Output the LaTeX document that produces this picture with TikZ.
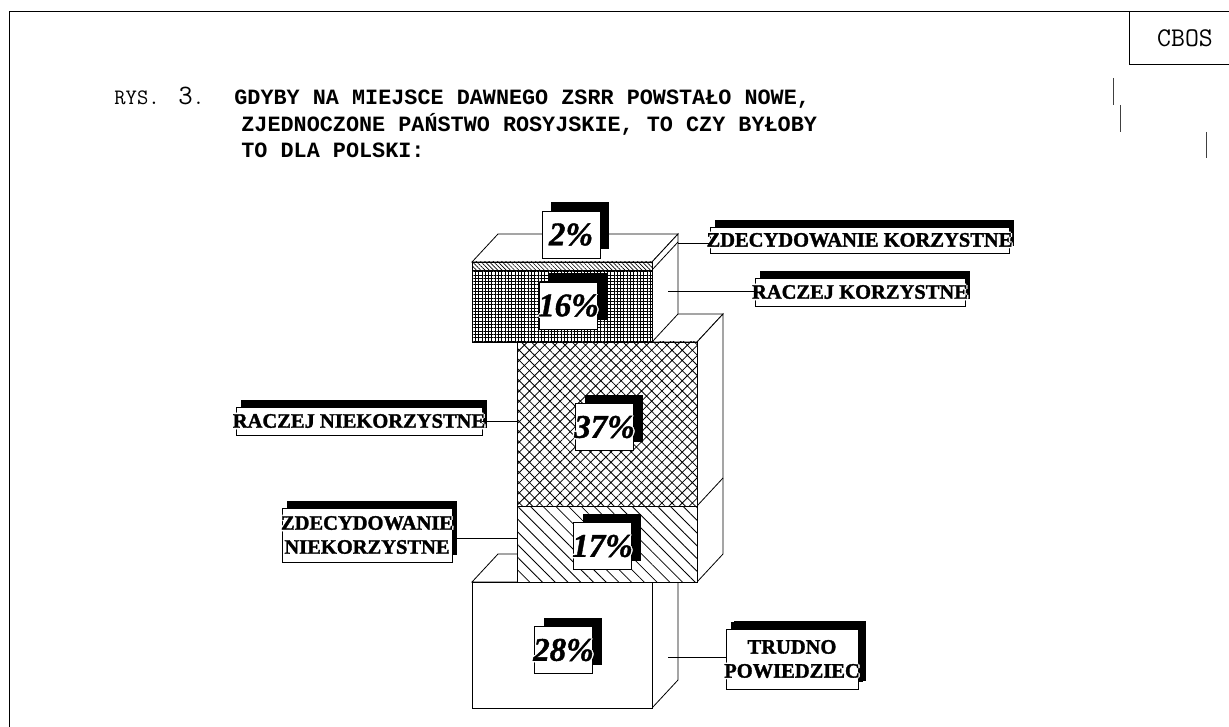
\documentclass[tikz,border=0pt]{standalone}
\usepackage{fontspec}
\setmainfont{Liberation Serif}
\newfontfamily\monof{Liberation Mono}
\newfontfamily\labfam{Liberation Serif Bold}[FakeBold=1.6]
\newfontfamily\pctfam{Liberation Serif Bold Italic}[FakeBold=1.2]
\usetikzlibrary{patterns.meta,shadows}
\newcommand\outl[1]{\makebox[0pt]{\leavevmode\rlap{\color{white}\kern1.4pt #1}\rlap{\color{white}\kern-1.4pt #1}\rlap{\color{white}\raise1.4pt\hbox{#1}}\rlap{\color{white}\lower1.4pt\hbox{#1}}#1}}
\tikzset{
  ttl/.style={anchor=base west, inner sep=0pt, font=\monof\bfseries\fontsize{21.8}{21.8}\selectfont},
  face/.style={fill=white, draw=black, line width=0.8pt},
  pct/.style={draw, fill=white, line width=0.8pt, minimum width=58pt, minimum height=47pt, inner sep=0pt,
    font=\pctfam\fontsize{33}{33}\selectfont,
    drop shadow={shadow xshift=9pt, shadow yshift=9pt, fill=black, opacity=1}},
  lab/.style={draw, fill=white, line width=0.8pt, inner sep=0pt, align=center,
    font=\labfam\fontsize{20.5}{24}\selectfont,
    drop shadow={shadow xshift=5pt, shadow yshift=7pt, fill=black, opacity=1}},
  conn/.style={line width=0.8pt},
  bar/.style={line width=1pt, black!75}
}
\begin{document}
\begin{tikzpicture}[x=1pt, y=-1pt, line width=0.8pt]
\useasboundingbox (0,0) rectangle (1229,727);
\fill[white] (0,0) rectangle (1229,727);
% frame
\draw (9,727) -- (9,11) -- (1229,11);
\draw (1129,11) -- (1129,64) -- (1229,64);
\node[font=\ttfamily\fontsize{27}{27}\selectfont, inner sep=0pt] (cbos) at (1185,38) {CBOS};
\draw[bar] (1113,78) -- (1113,105);
\draw[bar] (1120,105) -- (1120,132);
\draw[bar] (1206,132) -- (1206,158);
% title
\node[anchor=base west, inner sep=0pt, font=\ttfamily\fontsize{22}{22}\selectfont] (rys) at (114,105) {RYS.};
\node[anchor=base west, inner sep=0pt, font=\ttfamily\fontsize{22}{22}\selectfont] (rysn) at (178,105) {{\fontsize{28}{28}\selectfont 3}.};
\node[ttl] (t1) at (234,105) {GDYBY NA MIEJSCE DAWNEGO ZSRR POWSTAŁO NOWE,};
\node[ttl] (t2) at (241,132) {ZJEDNOCZONE PAŃSTWO ROSYJSKIE, TO CZY BYŁOBY};
\node[ttl] (t3) at (241,158) {TO DLA POLSKI:};
% bottom block (28%)
\filldraw[face] (472,582) -- (498,554) -- (678,554) -- (652,582) -- cycle;
\filldraw[face] (652,582) -- (678,554) -- (678,680) -- (652,708) -- cycle;
\filldraw[face] (472,582) rectangle (652,708);
% middle block (37% + 17%)
\filldraw[face] (517,342) -- (543,314) -- (723,314) -- (697,342) -- cycle;
\filldraw[face] (697,342) -- (723,314) -- (723,554) -- (697,582) -- cycle;
\draw (697,506) -- (723,478);
\filldraw[face] (517,342) rectangle (697,582);
\fill[pattern={Hatch[angle=45, distance=7.2pt, line width=0.8pt]}] (517,342) rectangle (697,506);
\fill[pattern={Lines[angle=-45, distance=9pt, line width=0.8pt]}] (517,506) rectangle (697,582);
\draw (517,342) rectangle (697,582);
\draw (517,506) -- (697,506);
% top block (2% + 16%)
\filldraw[face] (472,262) -- (498,234) -- (678,234) -- (652,262) -- cycle;
\filldraw[face] (652,262) -- (678,234) -- (678,314) -- (652,342) -- cycle;
\draw (652,270) -- (678,242);
\filldraw[face] (472,262) rectangle (652,342);
\fill[pattern={Lines[angle=-45, distance=3pt, line width=0.6pt]}] (472,262) rectangle (652,270);
\fill[pattern={Hatch[angle=0, distance=3.3pt, line width=0.6pt]}] (472,270) rectangle (652,342);
\draw (472,262) rectangle (652,342);
\draw (472,270) -- (652,270);
% percentage boxes
\node[pct] (p2) at (571,234.5) {\outl{2\%}};
\node[pct] (p16) at (568.5,305.5) {\outl{16\%}};
\node[pct] (p37) at (604.5,427) {\outl{37\%}};
\node[pct] (p17) at (602.5,546) {\outl{17\%}};
\node[pct] (p28) at (563.5,650) {\outl{28\%}};
% connector start points
\coordinate (zkA) at (678,243);
\coordinate (rkA) at (668,291);
\coordinate (rnA) at (517,421);
\coordinate (znA) at (517,538);
\coordinate (tpA) at (668,657);
% labels
\node[lab, minimum width=299pt, minimum height=26pt] (zk) at (859.5,240) {\outl{ZDECYDOWANIE KORZYSTNE}};
\node[lab, minimum width=210pt, minimum height=28pt] (rk) at (860,292) {\outl{RACZEJ KORZYSTNE}};
\node[lab, minimum width=246pt, minimum height=28pt] (rn) at (359,421) {\outl{RACZEJ NIEKORZYSTNE}};
\node[lab, minimum width=170pt, minimum height=54pt] (zn) at (367,535) {\outl{ZDECYDOWANIE}\\\outl{NIEKORZYSTNE}};
\node[lab, minimum width=132pt, minimum height=60pt, drop shadow={shadow xshift=8pt, shadow yshift=8pt, fill=black, opacity=1}] (tp) at (792,659) {\outl{TRUDNO}\\\outl{POWIEDZIEC}};
% connectors
\draw[conn] (zkA) -- (zkA -| zk.west);
\draw[conn] (rkA) -- (rkA -| rk.west);
\draw[conn] (rnA) -- (rnA -| rn.east);
\draw[conn] (znA) -- (znA -| zn.east);
\draw[conn] (tpA) -- (tpA -| tp.west);
\end{tikzpicture}
\end{document}
